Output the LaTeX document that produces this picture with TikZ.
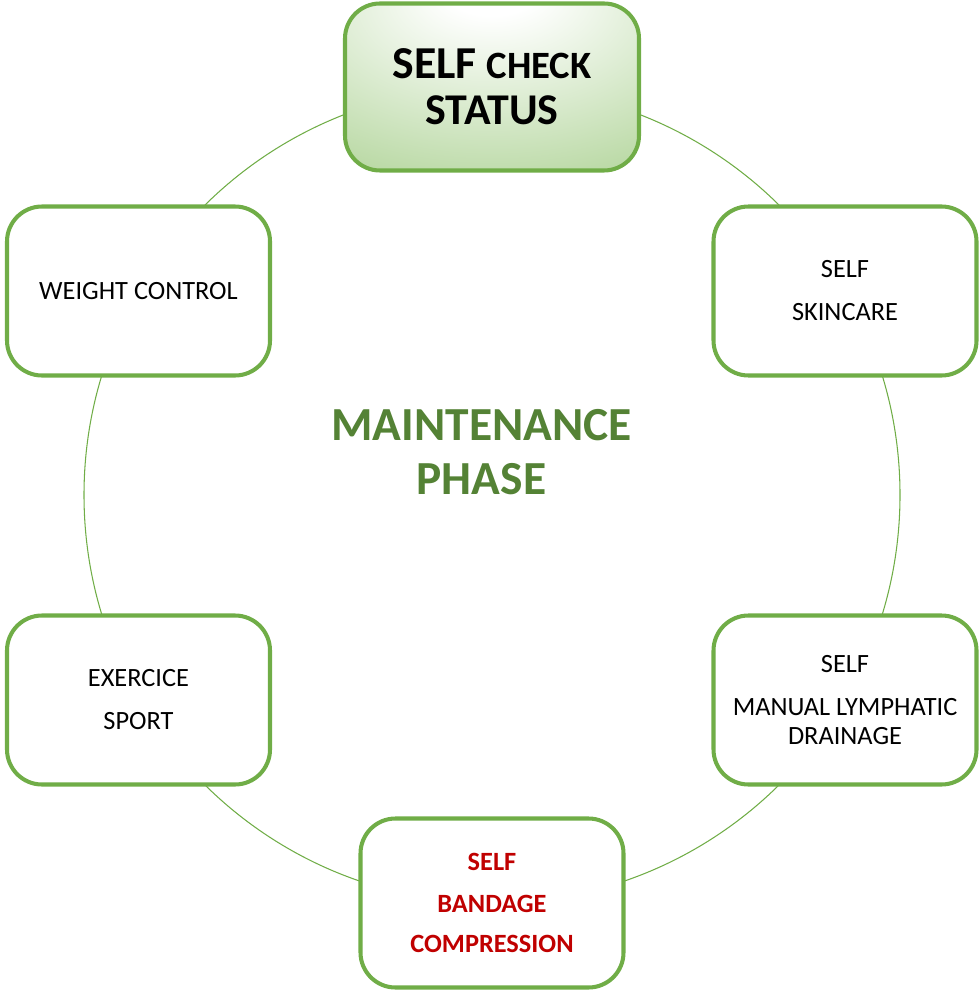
\documentclass[tikz,border=0pt]{standalone}
\usepackage{fontspec}
\setmainfont{Carlito}
\definecolor{verde}{RGB}{112,173,71}
\definecolor{verdeosc}{RGB}{84,130,53}
\definecolor{verdeclaro}{RGB}{140,192,105}
\definecolor{rojo}{RGB}{192,0,0}
\pgfdeclareradialshading{brillo}{\pgfpoint{0bp}{32bp}}{color(0bp)=(white); color(8bp)=(white); color(50bp)=(verdeclaro!65!white); color(75bp)=(verdeclaro); color(100bp)=(verdeclaro)}
\tikzset{
  caja/.style={draw=verde, line width=2.3pt, rounded corners=0.7cm, fill=white,
    minimum width=5.26cm, minimum height=3.38cm, align=center,
    font=\fontsize{15}{16.5}\selectfont},
  anillo/.style={draw=verde, line width=0.6pt}
}
\begin{document}
\begin{tikzpicture}
    \useasboundingbox (0,0) rectangle (19.56,-19.84);

    % Circulo
    \coordinate (centro) at (9.84,-9.9);
    \draw[anillo] (centro) circle (8.16);

    % Titulo
    \node[font=\bfseries\fontsize{27}{31}\selectfont, text=verdeosc, align=center] (fase) at (9.63,-9.04) {MAINTENANCE\\PHASE};

    % Cajas
    \node[caja, shading=brillo, minimum width=5.88cm, minimum height=3.34cm, font=\bfseries\fontsize{25}{26}\selectfont] (check) at (9.84,-1.74)
        {{\fontsize{26}{26}\selectfont SELF} {\fontsize{22}{26}\selectfont CHECK}\\STATUS};
    \node[caja] (piel) at (16.9,-5.82) {SELF\\[0.28cm]SKINCARE};
    \node[caja] (drenaje) at (16.9,-14.0) {SELF\\[0.28cm]MANUAL LYMPHATIC\\DRAINAGE};
    \node[caja, text=rojo, font=\bfseries\fontsize{15}{16.5}\selectfont] (vendaje) at (9.84,-18.06) {SELF\\[0.25cm]BANDAGE\\[0.22cm]COMPRESSION};
    \node[caja] (deporte) at (2.77,-14.0) {EXERCICE\\[0.28cm]SPORT};
    \node[caja] (peso) at (2.77,-5.82) {WEIGHT CONTROL};

\end{tikzpicture}
\end{document}
